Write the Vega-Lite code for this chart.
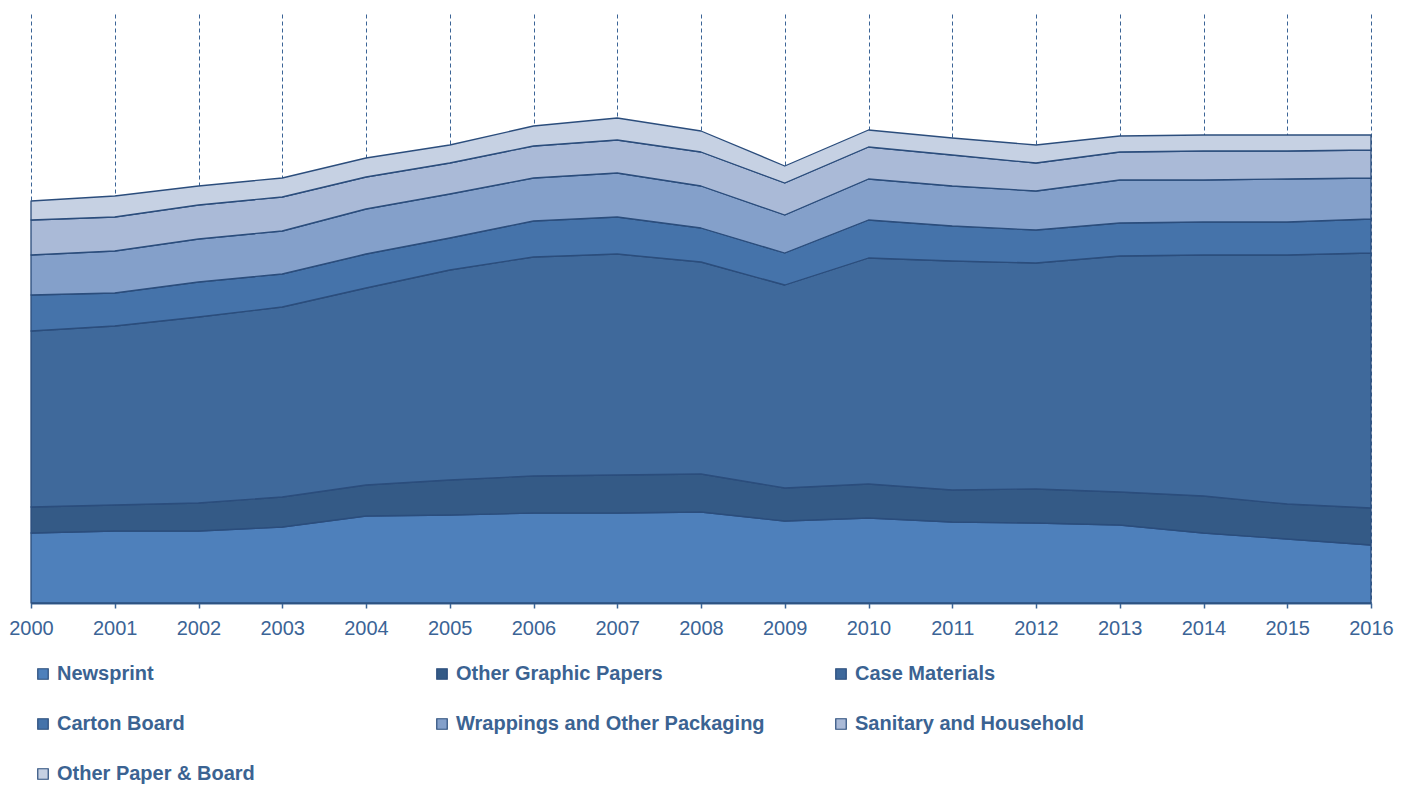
{
  "$schema": "https://vega.github.io/schema/vega-lite/v6.json",
  "width": 1340,
  "height": 589,
  "autosize": {"type": "none"},
  "padding": {"left": 31, "top": 14, "right": 43, "bottom": 182},
  "background": "white",
  "config": {
    "view": {"stroke": null},
    "font": "Liberation Sans"
  },
  "data": {
    "values": [
      {"year": 2000, "type": "Newsprint", "v": 70}, {"year": 2000, "type": "Other Graphic Papers", "v": 26}, {"year": 2000, "type": "Case Materials", "v": 176}, {"year": 2000, "type": "Carton Board", "v": 36}, {"year": 2000, "type": "Wrappings and Other Packaging", "v": 40}, {"year": 2000, "type": "Sanitary and Household", "v": 35}, {"year": 2000, "type": "Other Paper & Board", "v": 19},
      {"year": 2001, "type": "Newsprint", "v": 72}, {"year": 2001, "type": "Other Graphic Papers", "v": 26}, {"year": 2001, "type": "Case Materials", "v": 179}, {"year": 2001, "type": "Carton Board", "v": 33}, {"year": 2001, "type": "Wrappings and Other Packaging", "v": 42}, {"year": 2001, "type": "Sanitary and Household", "v": 34}, {"year": 2001, "type": "Other Paper & Board", "v": 21},
      {"year": 2002, "type": "Newsprint", "v": 72}, {"year": 2002, "type": "Other Graphic Papers", "v": 28}, {"year": 2002, "type": "Case Materials", "v": 186}, {"year": 2002, "type": "Carton Board", "v": 35}, {"year": 2002, "type": "Wrappings and Other Packaging", "v": 43}, {"year": 2002, "type": "Sanitary and Household", "v": 34}, {"year": 2002, "type": "Other Paper & Board", "v": 19},
      {"year": 2003, "type": "Newsprint", "v": 76}, {"year": 2003, "type": "Other Graphic Papers", "v": 30}, {"year": 2003, "type": "Case Materials", "v": 190}, {"year": 2003, "type": "Carton Board", "v": 33}, {"year": 2003, "type": "Wrappings and Other Packaging", "v": 43}, {"year": 2003, "type": "Sanitary and Household", "v": 34}, {"year": 2003, "type": "Other Paper & Board", "v": 19},
      {"year": 2004, "type": "Newsprint", "v": 87}, {"year": 2004, "type": "Other Graphic Papers", "v": 31}, {"year": 2004, "type": "Case Materials", "v": 197}, {"year": 2004, "type": "Carton Board", "v": 34}, {"year": 2004, "type": "Wrappings and Other Packaging", "v": 45}, {"year": 2004, "type": "Sanitary and Household", "v": 32}, {"year": 2004, "type": "Other Paper & Board", "v": 19},
      {"year": 2005, "type": "Newsprint", "v": 88}, {"year": 2005, "type": "Other Graphic Papers", "v": 35}, {"year": 2005, "type": "Case Materials", "v": 210}, {"year": 2005, "type": "Carton Board", "v": 32}, {"year": 2005, "type": "Wrappings and Other Packaging", "v": 44}, {"year": 2005, "type": "Sanitary and Household", "v": 31}, {"year": 2005, "type": "Other Paper & Board", "v": 18},
      {"year": 2006, "type": "Newsprint", "v": 90}, {"year": 2006, "type": "Other Graphic Papers", "v": 37}, {"year": 2006, "type": "Case Materials", "v": 219}, {"year": 2006, "type": "Carton Board", "v": 36}, {"year": 2006, "type": "Wrappings and Other Packaging", "v": 43}, {"year": 2006, "type": "Sanitary and Household", "v": 32}, {"year": 2006, "type": "Other Paper & Board", "v": 20},
      {"year": 2007, "type": "Newsprint", "v": 90}, {"year": 2007, "type": "Other Graphic Papers", "v": 38}, {"year": 2007, "type": "Case Materials", "v": 221}, {"year": 2007, "type": "Carton Board", "v": 37}, {"year": 2007, "type": "Wrappings and Other Packaging", "v": 44}, {"year": 2007, "type": "Sanitary and Household", "v": 33}, {"year": 2007, "type": "Other Paper & Board", "v": 22},
      {"year": 2008, "type": "Newsprint", "v": 91}, {"year": 2008, "type": "Other Graphic Papers", "v": 38}, {"year": 2008, "type": "Case Materials", "v": 212}, {"year": 2008, "type": "Carton Board", "v": 34}, {"year": 2008, "type": "Wrappings and Other Packaging", "v": 42}, {"year": 2008, "type": "Sanitary and Household", "v": 34}, {"year": 2008, "type": "Other Paper & Board", "v": 21},
      {"year": 2009, "type": "Newsprint", "v": 82}, {"year": 2009, "type": "Other Graphic Papers", "v": 33}, {"year": 2009, "type": "Case Materials", "v": 203}, {"year": 2009, "type": "Carton Board", "v": 32}, {"year": 2009, "type": "Wrappings and Other Packaging", "v": 38}, {"year": 2009, "type": "Sanitary and Household", "v": 32}, {"year": 2009, "type": "Other Paper & Board", "v": 17},
      {"year": 2010, "type": "Newsprint", "v": 85}, {"year": 2010, "type": "Other Graphic Papers", "v": 34}, {"year": 2010, "type": "Case Materials", "v": 226}, {"year": 2010, "type": "Carton Board", "v": 38}, {"year": 2010, "type": "Wrappings and Other Packaging", "v": 41}, {"year": 2010, "type": "Sanitary and Household", "v": 32}, {"year": 2010, "type": "Other Paper & Board", "v": 17},
      {"year": 2011, "type": "Newsprint", "v": 81}, {"year": 2011, "type": "Other Graphic Papers", "v": 32}, {"year": 2011, "type": "Case Materials", "v": 229}, {"year": 2011, "type": "Carton Board", "v": 35}, {"year": 2011, "type": "Wrappings and Other Packaging", "v": 40}, {"year": 2011, "type": "Sanitary and Household", "v": 31}, {"year": 2011, "type": "Other Paper & Board", "v": 17},
      {"year": 2012, "type": "Newsprint", "v": 80}, {"year": 2012, "type": "Other Graphic Papers", "v": 34}, {"year": 2012, "type": "Case Materials", "v": 226}, {"year": 2012, "type": "Carton Board", "v": 33}, {"year": 2012, "type": "Wrappings and Other Packaging", "v": 39}, {"year": 2012, "type": "Sanitary and Household", "v": 28}, {"year": 2012, "type": "Other Paper & Board", "v": 18},
      {"year": 2013, "type": "Newsprint", "v": 78}, {"year": 2013, "type": "Other Graphic Papers", "v": 33}, {"year": 2013, "type": "Case Materials", "v": 236}, {"year": 2013, "type": "Carton Board", "v": 33}, {"year": 2013, "type": "Wrappings and Other Packaging", "v": 43}, {"year": 2013, "type": "Sanitary and Household", "v": 28}, {"year": 2013, "type": "Other Paper & Board", "v": 16},
      {"year": 2014, "type": "Newsprint", "v": 70}, {"year": 2014, "type": "Other Graphic Papers", "v": 37}, {"year": 2014, "type": "Case Materials", "v": 241}, {"year": 2014, "type": "Carton Board", "v": 33}, {"year": 2014, "type": "Wrappings and Other Packaging", "v": 42}, {"year": 2014, "type": "Sanitary and Household", "v": 29}, {"year": 2014, "type": "Other Paper & Board", "v": 16},
      {"year": 2015, "type": "Newsprint", "v": 64}, {"year": 2015, "type": "Other Graphic Papers", "v": 35}, {"year": 2015, "type": "Case Materials", "v": 249}, {"year": 2015, "type": "Carton Board", "v": 33}, {"year": 2015, "type": "Wrappings and Other Packaging", "v": 43}, {"year": 2015, "type": "Sanitary and Household", "v": 28}, {"year": 2015, "type": "Other Paper & Board", "v": 16},
      {"year": 2016, "type": "Newsprint", "v": 58}, {"year": 2016, "type": "Other Graphic Papers", "v": 37}, {"year": 2016, "type": "Case Materials", "v": 255}, {"year": 2016, "type": "Carton Board", "v": 34}, {"year": 2016, "type": "Wrappings and Other Packaging", "v": 41}, {"year": 2016, "type": "Sanitary and Household", "v": 28}, {"year": 2016, "type": "Other Paper & Board", "v": 15}
    ]
  },
  "transform": [
    {"calculate": "indexof(['Newsprint', 'Other Graphic Papers', 'Case Materials', 'Carton Board', 'Wrappings and Other Packaging', 'Sanitary and Household', 'Other Paper & Board'], datum.type)", "as": "stackOrder"}
  ],
  "mark": {"type": "area", "stroke": "#2b4d7c", "strokeWidth": 1.3, "strokeJoin": "round"},
  "encoding": {
    "x": {
      "field": "year",
      "type": "quantitative",
      "scale": {"domain": [2000, 2016], "nice": false, "zero": false},
      "axis": {
        "title": null,
        "values": [2000, 2001, 2002, 2003, 2004, 2005, 2006, 2007, 2008, 2009, 2010, 2011, 2012, 2013, 2014, 2015, 2016],
        "format": "d",
        "labelFont": "Liberation Sans",
        "labelFontSize": 20,
        "labelColor": "#3b6496",
        "labelPadding": 10,
        "labelFlush": false,
        "domainColor": "#3b6496",
        "domainWidth": 2,
        "tickColor": "#3b6496",
        "tickSize": 5,
        "tickWidth": 1.5,
        "grid": true,
        "gridColor": "#3b6496",
        "gridDash": [4, 3],
        "gridWidth": 1,
        "gridOpacity": 1
      }
    },
    "y": {
      "field": "v",
      "type": "quantitative",
      "stack": "zero",
      "scale": {"domain": [0, 589], "nice": false},
      "axis": null
    },
    "order": {"field": "stackOrder", "type": "quantitative", "sort": "ascending"},
    "color": {
      "field": "type",
      "type": "nominal",
      "sort": ["Newsprint", "Other Graphic Papers", "Case Materials", "Carton Board", "Wrappings and Other Packaging", "Sanitary and Household", "Other Paper & Board"],
      "scale": {
        "domain": ["Newsprint", "Other Graphic Papers", "Case Materials", "Carton Board", "Wrappings and Other Packaging", "Sanitary and Household", "Other Paper & Board"],
        "range": ["#4e80bb", "#345a86", "#3f699b", "#4573aa", "#84a0ca", "#aabad7", "#c6d1e3"]
      },
      "legend": {
        "title": null,
        "orient": "none",
        "legendX": 2,
        "legendY": 650,
        "direction": "horizontal",
        "columns": 3,
        "gridAlign": "all",
        "columnPadding": 66,
        "rowPadding": 30,
        "symbolType": "square",
        "symbolSize": 110,
        "symbolStrokeColor": "#2b4d7c",
        "symbolStrokeWidth": 1.2,
        "symbolOpacity": 1,
        "labelFont": "Liberation Sans",
        "labelFontSize": 20,
        "labelFontWeight": "bold",
        "labelColor": "#3b6392",
        "labelOffset": 4,
        "labelLimit": 400
      }
    }
  }
}
